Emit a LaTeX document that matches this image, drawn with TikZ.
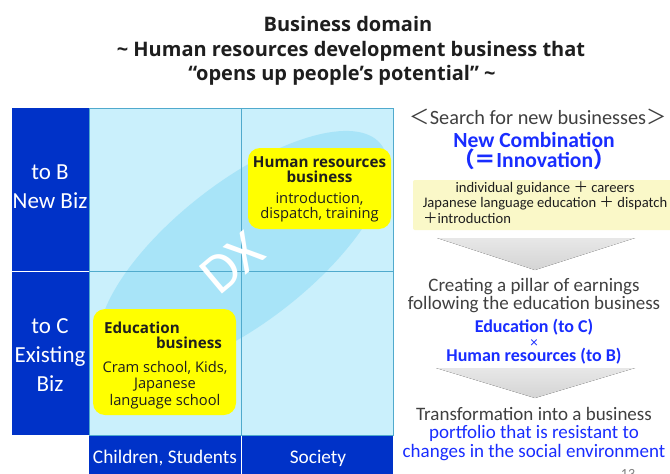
\documentclass[tikz,border=0pt]{standalone}
\usepackage{fontspec}
\setmainfont{Carlito}
\newfontfamily\titlefont{Open Sans}
\newfontfamily\cjkfont{Noto Sans CJK JP}
\usetikzlibrary{shapes.geometric}
\newcommand\fsz[2]{\fontsize{#1}{#2}\selectfont}

\definecolor{navy}{RGB}{0,50,200}
\definecolor{cellbg}{RGB}{202,240,252}
\definecolor{gridln}{RGB}{80,170,205}
\definecolor{dxfill}{RGB}{168,228,248}
\definecolor{hilite}{RGB}{255,255,0}
\definecolor{paleyel}{RGB}{250,248,200}
\definecolor{inkblue}{RGB}{25,45,255}
\definecolor{ink}{RGB}{30,30,30}
\definecolor{graytxt}{RGB}{64,64,64}
\definecolor{arrowgray}{RGB}{212,212,212}

\begin{document}
\begin{tikzpicture}[x=1pt,y=-1pt,
  every node/.style={inner sep=0pt, outer sep=0pt},
  cell/.style={fill=cellbg, minimum width=152, minimum height=163.5, anchor=north west},
  axisbox/.style={fill=navy, anchor=north west},
  axistext/.style={text=white, font=\fsz{23}{23}, anchor=base},
  ybox/.style={fill=hilite, rounded corners=12pt, anchor=north west},
  boxhead/.style={font=\titlefont\bfseries\fsz{15.2}{16}, text=ink, anchor=base},
  boxbody/.style={font=\titlefont\fsz{14.7}{17}, text=ink, anchor=base},
  titletext/.style={font=\titlefont\bfseries\fsz{20}{24}, text=ink, anchor=base},
  rtext/.style={font=\fsz{19}{19}, text=graytxt, anchor=base},
  rblue/.style={font=\bfseries\fsz{18}{18}, text=inkblue, anchor=base},
  rbluereg/.style={font=\fsz{19}{19}, text=inkblue, anchor=base},
  combotext/.style={font=\fsz{14.6}{14}, text=ink, anchor=base},
  chev/.style={top color=arrowgray!55, bottom color=arrowgray},
  gridline/.style={draw=gridln, line width=0.9pt},
]
\useasboundingbox (0,0) rectangle (670,474);
\fill[white] (0,0) rectangle (670,474);

% title
\node[titletext] (t1) at (348,31) {Business domain};
\node[titletext] (t2) at (351,56) {\textasciitilde{} Human resources development business that};
\node[titletext] (t3) at (342,80) {“opens up people’s potential” \textasciitilde};

% quadrant cells
\node[cell] (tl) at (89,108) {};
\node[cell] (tr) at (241,108) {};
\node[cell] (bl) at (89,271.5) {};
\node[cell] (br) at (241,271.5) {};

% DX band
\node[ellipse, fill=dxfill, minimum width=350, minimum height=140, rotate=38] (dx) at (243,252) {};

% grid lines
\draw[gridline] (tl.north west) rectangle (br.south east);
\draw[gridline] (tl.north east) -- (br.south west);
\draw[gridline] (tl.south west) -- (br.north east);

% axis labels
\node[axisbox, minimum width=77, minimum height=163] (ab) at (12,108) {};
\node[axisbox, minimum width=77, minimum height=163] (ac) at (12,272) {};
\node[axisbox, minimum width=152, minimum height=40] (ak) at (89,435.5) {};
\node[axisbox, minimum width=151, minimum height=40] (as) at (242,435.5) {};
\node[axistext] (ab1) at (50,179) {to B};
\node[axistext] (ab2) at (50,208) {New Biz};
\node[axistext] (ac1) at (50,333) {to C};
\node[axistext] (ac2) at (50,362) {Existing};
\node[axistext] (ac3) at (50,391) {Biz};
\node[axistext, font=\fsz{19.3}{20}] (ak1) at (165,463) {Children, Students};
\node[axistext, font=\fsz{19.3}{20}] (as1) at (318,463) {Society};

% DX label
\node[text=white, font=\fsz{56}{56}, rotate=40] (dxl) at (232,263) {DX};

% business boxes
\node[ybox, minimum width=143, minimum height=81] (hr) at (248,148) {};
\node[boxhead] (hr1) at (319.5,167) {Human resources};
\node[boxhead] (hr2) at (319.5,182) {business};
\node[boxbody] (hr3) at (319.5,203) {introduction,};
\node[boxbody] (hr4) at (319.5,218) {dispatch, training};

\node[ybox, minimum width=143, minimum height=106] (edu) at (93,309) {};
\node[boxhead, anchor=base west] (edu1) at (104,333) {Education};
\node[boxhead, anchor=base east] (edu2) at (222,348) {business};
\node[boxbody] (edu3) at (165,372) {Cram school, Kids,};
\node[boxbody] (edu4) at (165,388) {Japanese};
\node[boxbody] (edu5) at (165,405) {language school};

% right column
\node[rtext, font=\fsz{20.3}{20}] (r1) at (538,124) {{\cjkfont ＜}Search for new businesses{\cjkfont ＞}};
\node[rblue, font=\bfseries\fsz{21.6}{20}] (r2) at (534,147) {New Combination};
\node[rblue, font=\bfseries\fsz{21.6}{20}] (r3) at (534,167) {{\cjkfont （＝}Innovation{\cjkfont ）}};

\node[fill=paleyel, rounded corners=2pt, minimum width=262, minimum height=50, anchor=north west] (combo) at (413,180) {};
\node[combotext] (c1) at (545,192) {individual guidance {\cjkfont ＋} careers};
\node[combotext] (c2) at (545,207) {Japanese language education {\cjkfont ＋} dispatch};
\node[combotext, anchor=base west] (c3) at (423,223) {{\cjkfont ＋}introduction};

\fill[chev] (437,238) -- (635,238) -- (535,270) -- cycle;

\node[rtext] (p1) at (534,291) {Creating a pillar of earnings};
\node[rtext] (p2) at (534,309) {following the education business};
\node[rblue] (p3) at (534,332) {Education (to C)};
\node[rbluereg, font=\fsz{15}{15}] (p4) at (534,347) {×};
\node[rblue] (p5) at (534,361) {Human resources (to B)};

\fill[chev] (436,368) -- (635,368) -- (535,398) -- cycle;

\node[rtext] (q1) at (534,420) {Transformation into a business};
\node[rbluereg] (q2) at (534,438) {portfolio that is resistant to};
\node[rbluereg] (q3) at (534,457) {changes in the social environment};

\node[font=\fsz{14}{14}, text=gray, anchor=base] (pg) at (628,478) {13};
\end{tikzpicture}
\end{document}
